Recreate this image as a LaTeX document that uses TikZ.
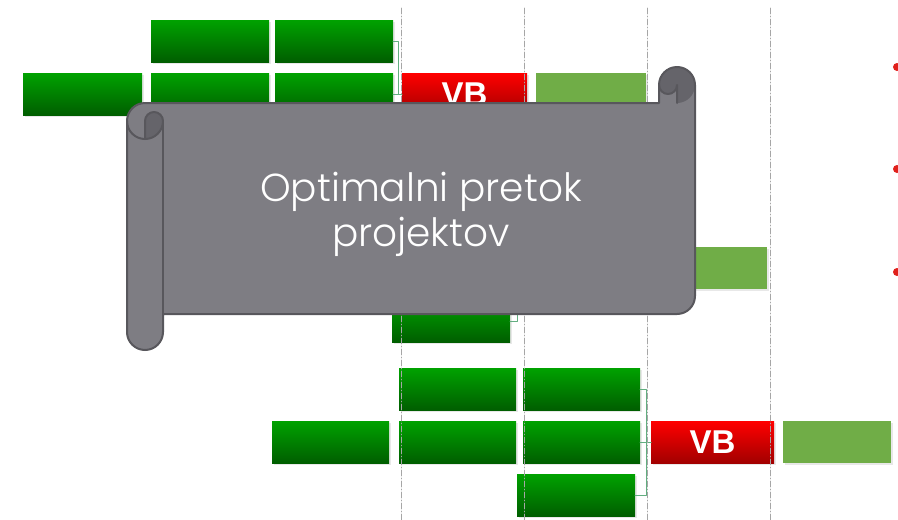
\documentclass[tikz,border=0pt]{standalone}
\usepackage{fontspec}
\setmainfont{Liberation Sans}
\newfontfamily\scrollfont{Poppins Light}
\usetikzlibrary{shadows}

\definecolor{barhi}{HTML}{00A200}
\definecolor{barlo}{HTML}{005E00}
\definecolor{redhi}{HTML}{FF0000}
\definecolor{redlo}{HTML}{A20000}
\definecolor{donegreen}{HTML}{70AD47}
\definecolor{scrollbody}{HTML}{7E7D83}
\definecolor{scrollback}{HTML}{65646A}
\definecolor{scrollline}{HTML}{58575C}
\definecolor{linkgreen}{HTML}{62AE80}
\definecolor{bulletred}{HTML}{E0201B}

\tikzset{
  slot/.style={anchor=north west,minimum width=118pt,minimum height=42pt,
    inner sep=0pt,outer sep=0pt,
    drop shadow={shadow xshift=1.5pt,shadow yshift=-2pt,opacity=.18}},
  bar/.style={slot,top color=barhi,bottom color=barlo},
  vbbar/.style={slot,minimum width=125pt,top color=redhi,bottom color=redlo,
    text=white,font=\bfseries\fontsize{33}{33}\selectfont},
  donebar/.style={slot,minimum width=110pt,fill=donegreen},
  link/.style={draw=linkgreen,line width=.8pt},
  gridline/.style={draw=gray!70,line width=.6pt,dash pattern=on 6pt off 2pt on 1pt off 2pt},
  scrolltext/.style={text=white,align=center,font=\scrollfont\fontsize{39}{45}\selectfont}
}

\begin{document}
\begin{tikzpicture}[x=1pt,y=-1pt,line join=round,line cap=round]
\useasboundingbox (0,0) rectangle (898,520);

% first project
\node[bar] (a1) at (151,20) {};
\node[bar] (a2) at (275,20) {};
\node[bar,minimum width=119pt] (b1) at (23,73) {};
\node[bar] (b2) at (151,73) {};
\node[bar] (b3) at (275,73) {};
\node[vbbar] (vb1) at (402,73) {VB};
\node[donebar] (lg1) at (536,73) {};
\draw[link] (a2.east) -- ++(5,0) |- (vb1.west);
\draw[link] (b3.east) -- (vb1.west);

% second project (behind the scroll)
\node[bar] (m1) at (392,300) {};
\node[donebar] (lg2) at (657,247) {};
\coordinate (mjoin) at (517,260);
\draw[link] (m1.east) -| (mjoin);

% third project
\node[bar,minimum width=117pt] (c1) at (399,368) {};
\node[bar,minimum width=117pt] (c2) at (523,368) {};
\node[bar,minimum width=117pt] (d1) at (272,421) {};
\node[bar,minimum width=117pt] (d2) at (399,421) {};
\node[bar,minimum width=117pt] (d3) at (523,421) {};
\node[vbbar,minimum width=123pt] (vb2) at (651,421) {VB};
\node[donebar,minimum width=108pt] (lg3) at (783,421) {};
\node[bar] (e1) at (517,474) {};
\draw[link] (c2.east) -- ++(6,0) |- (vb2.west);
\draw[link] (d3.east) -- (vb2.west);
\draw[link] (e1.east) -- ++(11,0) |- (vb2.west);

\foreach \x in {401,524,647,770}
  \draw[gridline] (\x,8) -- (\x,520);

\foreach \y in {67,169,272}
  \fill[bulletred] (897,\y) circle (4);

% scroll
\fill[scrollbody] (127,121) arc[start angle=180,delta angle=90,radius=18]
  -- (659,103) -- (659,85) -- (695,85) -- (695,296)
  arc[start angle=0,delta angle=90,radius=18] -- (163,314) -- (163,332)
  arc[start angle=0,delta angle=180,radius=18] -- cycle;
\fill[scrollback] (677,85) circle (18);
\fill[scrollbody] (659,103) -- (659,85) arc[start angle=180,delta angle=-180,radius=9] -- (677,103) -- cycle;
\fill[scrollback] (145,139) arc[start angle=90,delta angle=-90,radius=18]
  arc[start angle=0,delta angle=-180,radius=9] -- cycle;
\begin{scope}[draw=scrollline,line width=2pt]
\draw (127,121) arc[start angle=180,delta angle=90,radius=18]
  -- (659,103) -- (659,85) arc[start angle=180,delta angle=180,radius=18]
  -- (695,296) arc[start angle=0,delta angle=90,radius=18] -- (163,314) -- (163,332)
  arc[start angle=0,delta angle=180,radius=18] -- cycle;
\draw (677,103) -- (677,85) arc[start angle=0,delta angle=180,radius=9];
\draw (163,121) -- (163,314);
\draw (127,121) arc[start angle=180,delta angle=-90,radius=18]
  arc[start angle=90,delta angle=-90,radius=18]
  arc[start angle=0,delta angle=-180,radius=9] -- (145,139);
\end{scope}
\node[scrolltext] (title) at (421,214) {Optimalni pretok\\projektov};
\end{tikzpicture}
\end{document}
